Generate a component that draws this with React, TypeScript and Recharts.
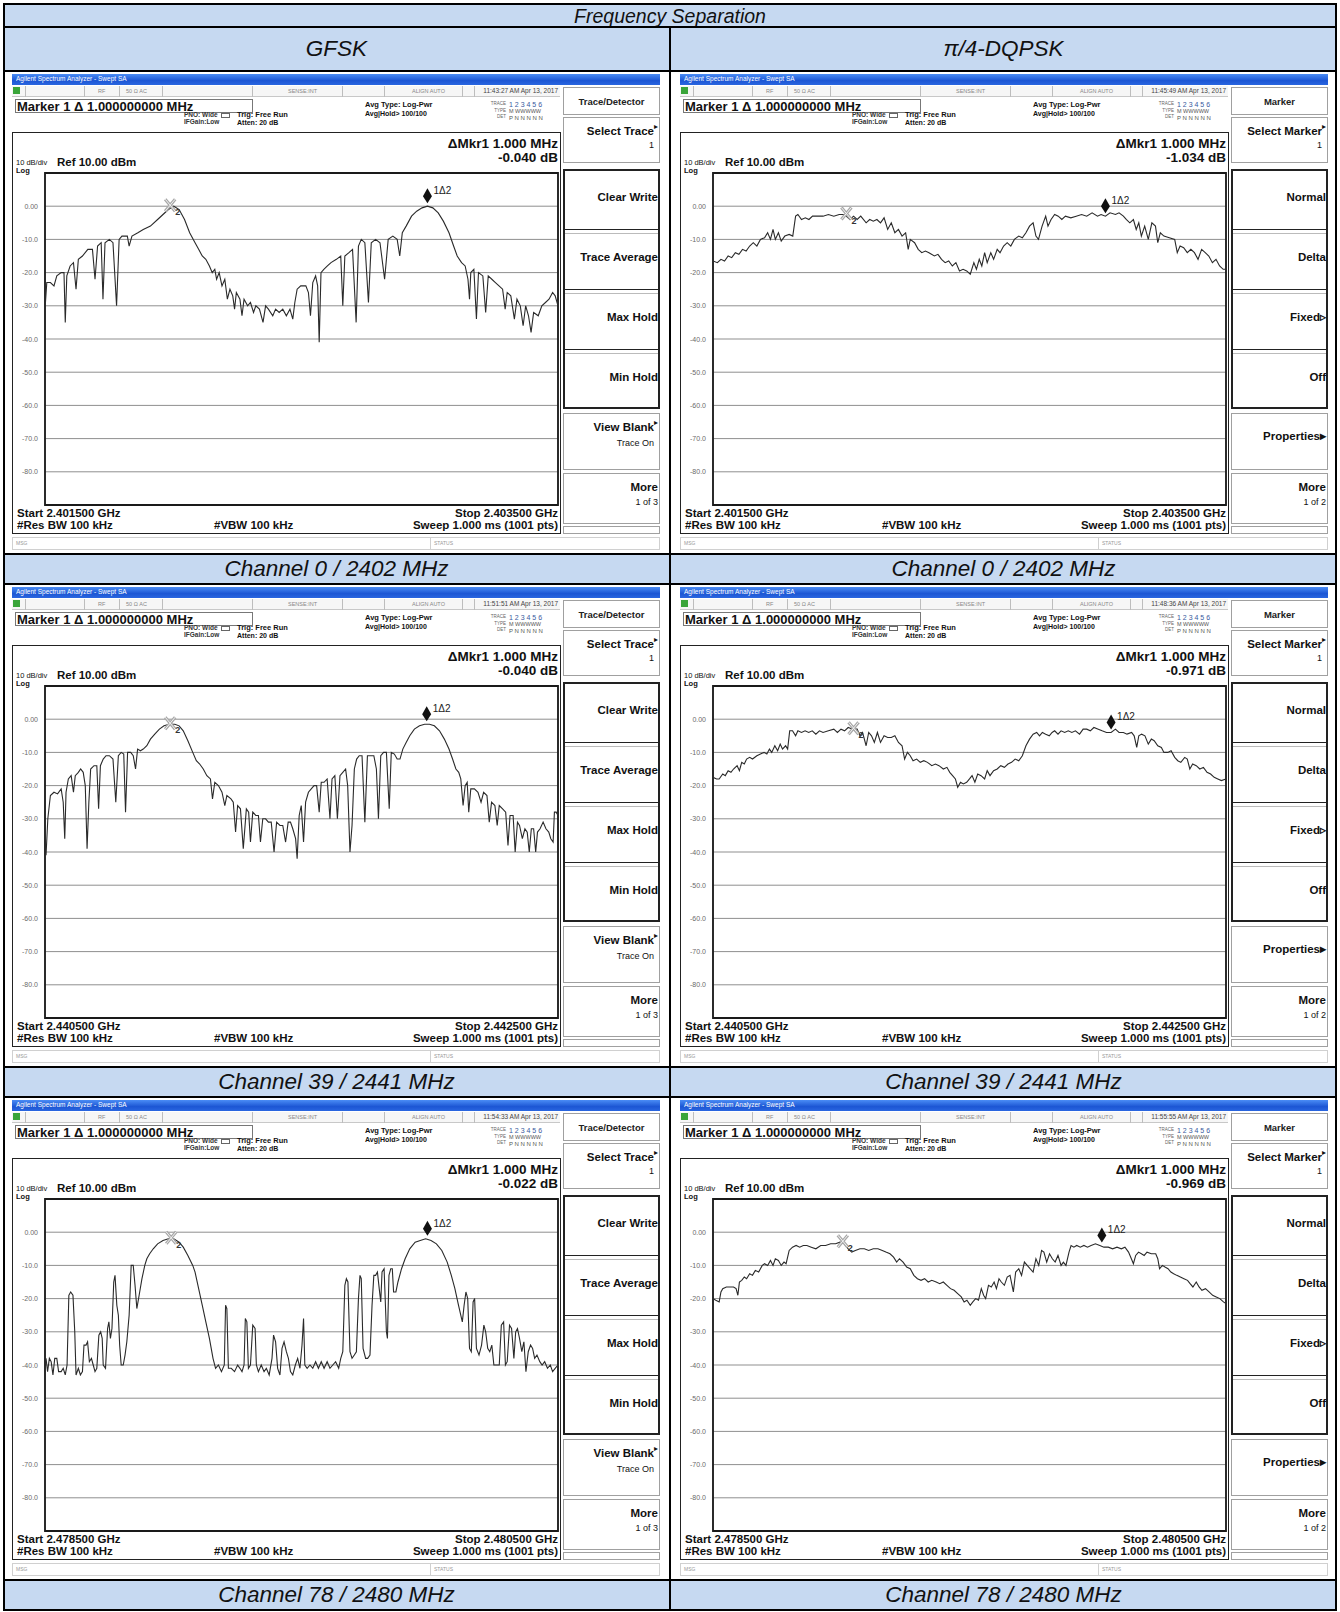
import React from 'react';
import { ComposedChart, Line, Scatter, XAxis, YAxis, CartesianGrid, ReferenceArea } from 'recharts';

const FONT = '"Liberation Sans", Arial, Helvetica, sans-serif';

// ---------- text / labels ----------
const TITLE = 'Frequency Separation';
const MODULATIONS = ['GFSK', 'π/4-DQPSK'];
const CHANNEL_CAPTIONS = ['Channel 0 / 2402 MHz', 'Channel 39 / 2441 MHz', 'Channel 78 / 2480 MHz'];
const START_FREQ = ['2.401500 GHz', '2.440500 GHz', '2.478500 GHz'];
const STOP_FREQ = ['2.403500 GHz', '2.442500 GHz', '2.480500 GHz'];
const TIMESTAMPS = [
  ['11:43:27 AM Apr 13, 2017', '11:45:49 AM Apr 13, 2017'],
  ['11:51:51 AM Apr 13, 2017', '11:48:36 AM Apr 13, 2017'],
  ['11:54:33 AM Apr 13, 2017', '11:55:55 AM Apr 13, 2017'],
];
const DELTA_DB = [
  ['-0.040 dB', '-1.034 dB'],
  ['-0.040 dB', '-0.971 dB'],
  ['-0.022 dB', '-0.969 dB'],
];
const LEVEL_TICKS = [10, 0, -10, -20, -30, -40, -50, -60, -70, -80, -90];
const FREQ_TICKS_KHZ = [0, 200, 400, 600, 800, 1000, 1200, 1400, 1600, 1800, 2000];
const SOFTKEYS_GFSK = {
  title: 'Trace/Detector',
  select: ['Select Trace', '1'],
  group: ['Clear Write', 'Trace Average', 'Max Hold', 'Min Hold'],
  fifth: ['View Blank', 'Trace On'],
  more: ['More', '1 of 3'],
};
const SOFTKEYS_DQPSK = {
  title: 'Marker',
  select: ['Select Marker', '1'],
  group: ['Normal', 'Delta', 'Fixed▹', 'Off'],
  fifth: ['Properties▸'],
  more: ['More', '1 of 2'],
};

// ---------- traces: [offset from start, kHz ; level, dBm] ----------
const TRACE_GFSK_CH0 = [[0,-31],[7,-23],[21,-23],[35,-24],[46,-21],[63,-20],[74,-20],[79,-35],[85,-21],[98,-18],[111,-17],[121,-25],[130,-16],[146,-15],[167,-13],[185,-13],[195,-22],[205,-12],[219,-11],[226,-28],[234,-11],[251,-10],[265,-11],[279,-30],[289,-10],[300,-9],[321,-9],[328,-12],[339,-9],[362,-8],[383,-7],[411,-6],[439,-4],[460,-2.5],[481,-1],[502,0],[523,-1],[544,-4],[564,-8],[585,-11],[599,-13],[613,-15],[627,-16],[641,-18],[652,-20],[662,-19],[669,-22],[679,-20],[690,-24],[701,-22],[711,-28],[721,-25],[732,-27],[739,-31],[746,-26],[760,-28],[768,-33],[776,-28],[790,-30],[801,-29],[813,-32],[822,-30],[836,-31],[850,-35],[860,-30],[871,-31],[888,-33],[899,-31],[913,-32],[927,-31],[941,-33],[955,-31],[966,-34],[974,-29],[983,-25],[997,-24],[1017,-24],[1027,-26],[1035,-33],[1044,-23],[1055,-21],[1063,-24],[1069,-41],[1076,-20],[1087,-19],[1101,-18],[1115,-17],[1136,-16],[1153,-15],[1161,-30],[1169,-15],[1185,-14],[1199,-13],[1213,-35],[1222,-12],[1233,-10],[1247,-11],[1261,-29],[1272,-11],[1289,-10],[1306,-11],[1324,-22],[1338,-10],[1356,-9],[1373,-10],[1383,-15],[1393,-8],[1408,-6],[1429,-3],[1449,-1.5],[1470,-0.5],[1491,0],[1512,-0.5],[1533,-2],[1553,-4.5],[1575,-8],[1593,-12],[1607,-15],[1624,-17],[1638,-18],[1649,-22],[1655,-28],[1660,-20],[1672,-19],[1682,-34],[1690,-20],[1707,-21],[1718,-32],[1728,-21],[1742,-22],[1756,-23],[1770,-24],[1784,-25],[1794,-31],[1802,-26],[1816,-27],[1830,-34],[1840,-28],[1853,-30],[1864,-36],[1874,-30],[1885,-33],[1895,-38],[1905,-32],[1923,-33],[1937,-30],[1951,-29],[1965,-28],[1979,-26],[1989,-27],[2000,-30]];

const TRACE_DQPSK_CH0 = [[0,-16.5],[17,-17],[31,-16],[45,-16.5],[59,-15],[73,-15.5],[87,-14],[101,-14.5],[115,-13],[129,-13.5],[143,-12],[157,-11],[171,-12],[185,-10],[201,-9.5],[213,-8],[224,-10],[234,-7],[243,-10],[255,-8],[266,-10.5],[280,-9],[297,-8.5],[311,-9],[322,-3],[331,-2.5],[345,-4],[360,-3.5],[374,-4],[388,-3],[408,-3],[429,-3],[450,-2.5],[471,-3],[492,-2.5],[513,-2.5],[534,-4],[548,-3],[562,-4],[576,-3],[597,-5],[611,-4],[625,-4.5],[639,-4],[653,-5],[667,-3.5],[681,-7],[695,-5],[709,-8],[723,-7],[737,-9],[751,-8],[761,-13],[769,-10],[786,-11],[800,-13],[814,-14],[828,-13.5],[842,-14],[863,-15],[877,-14.5],[891,-16],[905,-17],[919,-16.5],[933,-18],[947,-17],[961,-19.5],[975,-19],[989,-19.5],[1003,-20.5],[1017,-17],[1027,-19],[1038,-16],[1048,-18],[1059,-14],[1069,-17],[1083,-14],[1094,-16],[1108,-13],[1119,-14],[1133,-12],[1147,-11],[1161,-12],[1175,-10],[1192,-9],[1206,-9.5],[1220,-8],[1234,-6],[1248,-5],[1259,-9],[1269,-10],[1283,-6],[1297,-3],[1306,-6],[1318,-4],[1332,-2.5],[1346,-3],[1360,-4],[1374,-3],[1395,-3.5],[1416,-3],[1437,-2.5],[1457,-3],[1478,-2],[1499,-3],[1513,-2.5],[1530,-3],[1548,-2],[1569,-2.5],[1583,-2],[1600,-3],[1611,-4],[1625,-5],[1639,-4],[1650,-7],[1660,-5],[1670,-9],[1683,-6],[1697,-10],[1711,-5],[1725,-6],[1734,-11],[1744,-8],[1758,-9],[1779,-9.5],[1800,-10],[1810,-14],[1821,-12],[1835,-12.5],[1849,-14],[1863,-13],[1877,-14],[1891,-16],[1905,-13],[1919,-14],[1933,-15],[1947,-17],[1961,-16],[1975,-18],[1989,-19],[2000,-19]];

const TRACE_GFSK_CH39 = [[4,-41],[11,-30],[21,-23],[35,-22],[49,-22.5],[63,-21],[71,-25],[77,-36],[82,-22],[91,-18],[102,-17],[111,-22],[118,-17],[130,-16],[139,-15],[149,-16],[157,-20],[164,-39],[171,-25],[178,-15],[191,-14],[202,-14],[209,-27],[216,-14],[227,-12],[238,-11],[251,-11],[265,-12],[276,-25],[286,-11],[297,-10],[307,-10.5],[314,-28],[322,-10],[334,-10],[344,-11],[353,-15],[361,-9],[372,-9.5],[383,-9],[397,-8],[411,-6],[428,-4.5],[446,-3],[464,-2],[484,-1.5],[506,-1.5],[523,-2],[539,-3.5],[557,-6.5],[576,-10],[590,-12.5],[603,-13.5],[617,-15],[631,-17],[645,-18],[653,-24],[662,-19],[676,-20],[690,-22],[701,-26],[709,-23],[725,-24],[734,-25],[743,-34],[751,-26],[762,-27],[773,-39],[785,-27],[794,-28],[801,-37],[810,-28],[822,-29],[832,-29],[840,-37],[849,-30],[860,-30],[871,-31],[882,-31],[893,-40],[903,-31],[916,-32],[927,-32],[938,-37],[948,-31],[957,-31],[966,-33],[977,-36],[983,-42],[991,-29],[999,-26],[1008,-37],[1016,-25],[1027,-22],[1038,-21],[1049,-20],[1059,-20],[1069,-28],[1077,-19],[1088,-19],[1100,-18],[1111,-30],[1119,-18],[1130,-17],[1140,-30],[1150,-17],[1161,-16],[1172,-15],[1180,-20],[1189,-40],[1197,-32],[1206,-15],[1215,-12],[1225,-11],[1236,-11],[1247,-31],[1257,-11],[1270,-11],[1282,-11],[1292,-15],[1300,-30],[1309,-11],[1320,-10],[1331,-10],[1342,-27],[1350,-10],[1362,-10.5],[1373,-12],[1384,-12],[1395,-9],[1408,-7],[1422,-5],[1440,-3],[1460,-2],[1480,-1.5],[1499,-1.5],[1518,-2],[1538,-3.5],[1557,-6],[1575,-9],[1589,-12],[1602,-15],[1613,-16],[1621,-18],[1630,-26],[1638,-20],[1646,-19],[1652,-28],[1660,-21],[1674,-21],[1688,-22],[1700,-25],[1710,-22],[1723,-23],[1732,-31],[1741,-25],[1754,-26],[1763,-32],[1771,-26],[1784,-27],[1796,-28],[1805,-38],[1813,-29],[1825,-29],[1833,-40],[1842,-31],[1850,-32],[1861,-36],[1871,-33],[1880,-34],[1888,-40],[1896,-33],[1905,-33],[1913,-40],[1920,-34],[1930,-33],[1942,-31],[1953,-33],[1964,-34],[1972,-36],[1981,-37],[1986,-28],[1993,-28],[2000,-29]];

const TRACE_DQPSK_CH39 = [[0,-17.5],[14,-18],[24,-18],[38,-16.5],[48,-17],[59,-15.5],[70,-16],[80,-15],[94,-14],[103,-15.5],[112,-13],[122,-13.5],[131,-12],[143,-11.5],[154,-12],[171,-11],[185,-10.5],[199,-10],[210,-10.5],[220,-9],[229,-10],[241,-8],[252,-9.5],[262,-7.5],[271,-9],[283,-8],[291,-9],[299,-3.5],[310,-3.5],[322,-5],[331,-3.5],[345,-4],[359,-3.5],[373,-4],[387,-3.5],[401,-4.5],[415,-3.5],[429,-4],[450,-3.5],[471,-3],[485,-4],[499,-3],[513,-3.5],[527,-2.5],[545,-3],[562,-3],[573,-5],[583,-4],[597,-8],[607,-4],[618,-5],[629,-7],[641,-4],[653,-7],[667,-5],[681,-5.5],[695,-5.5],[709,-5],[723,-7],[737,-8],[747,-12],[758,-10],[769,-11],[780,-12.5],[794,-12],[808,-13],[822,-12.5],[836,-13],[853,-14],[867,-13.5],[881,-14],[898,-15],[912,-14.5],[923,-16],[934,-17],[945,-18],[954,-20.5],[965,-19],[976,-19.5],[989,-19],[1000,-18],[1010,-17],[1021,-19],[1032,-16.5],[1045,-17],[1059,-18],[1069,-15.5],[1080,-17],[1094,-15.5],[1108,-15],[1122,-14],[1136,-14.5],[1150,-13.5],[1164,-13],[1178,-12],[1192,-12.5],[1206,-11],[1220,-8],[1234,-6],[1248,-4.5],[1262,-4],[1273,-5],[1284,-4],[1297,-4.5],[1311,-5],[1322,-4],[1332,-3.5],[1345,-4.5],[1357,-3.5],[1371,-4],[1385,-3.5],[1399,-4],[1413,-3.5],[1429,-4.5],[1443,-3],[1457,-3],[1471,-3.5],[1485,-2.5],[1502,-3],[1517,-3.5],[1534,-4],[1552,-4],[1569,-3],[1583,-4],[1600,-4],[1614,-4.5],[1632,-4],[1642,-5],[1652,-8.5],[1660,-5],[1671,-4.5],[1684,-5],[1697,-7.5],[1709,-6],[1720,-6.5],[1734,-8],[1748,-8.5],[1758,-10],[1773,-10],[1786,-9.5],[1800,-11.5],[1812,-12.5],[1824,-13],[1839,-11.5],[1849,-12],[1859,-15],[1870,-13.5],[1884,-14],[1898,-15],[1912,-14.5],[1926,-16],[1940,-16.5],[1954,-17.5],[1968,-18],[1982,-18.5],[2000,-18]];

const TRACE_GFSK_CH78 = [[4,-38],[10,-42],[17,-38],[24,-39],[31,-43],[38,-38],[46,-38],[53,-42],[63,-42],[71,-41],[79,-43],[86,-40],[93,-19],[100,-18],[109,-19],[116,-30],[121,-43],[130,-41],[138,-43],[146,-42],[152,-34],[160,-34],[166,-33],[173,-39],[181,-38],[188,-40],[195,-42],[202,-41],[210,-31],[217,-30],[223,-32],[227,-40],[236,-41],[244,-29],[249,-27],[255,-32],[261,-29],[268,-15],[273,-13],[280,-22],[286,-25],[291,-34],[297,-40],[305,-40],[312,-37],[319,-33],[328,-25],[336,-10],[344,-10],[351,-16],[358,-23],[367,-19],[378,-14],[389,-10],[397,-8],[408,-6.5],[422,-5],[439,-3.5],[460,-2.5],[481,-2],[502,-2],[523,-3],[539,-4.5],[557,-7],[576,-10],[585,-12],[599,-17],[613,-22],[627,-27],[641,-32],[655,-38],[665,-41],[676,-40],[688,-42],[699,-40],[704,-22],[709,-23],[715,-41],[726,-41],[739,-42],[751,-40],[760,-41],[768,-42],[776,-40],[781,-26],[787,-27],[793,-41],[801,-40],[810,-28],[819,-29],[824,-40],[832,-42],[843,-40],[854,-42],[863,-41],[874,-43],[885,-38],[891,-31],[899,-33],[907,-41],[916,-43],[924,-35],[932,-33],[941,-36],[949,-38],[957,-42],[966,-43],[976,-40],[985,-38],[994,-41],[1002,-34],[1008,-26],[1013,-40],[1022,-41],[1033,-40],[1044,-41],[1055,-39],[1066,-41],[1077,-39],[1088,-41],[1100,-39],[1111,-41],[1122,-40],[1133,-39],[1145,-41],[1153,-38],[1161,-36],[1169,-16],[1175,-14],[1181,-15],[1189,-36],[1197,-38],[1206,-37],[1214,-36],[1222,-20],[1228,-13],[1233,-14],[1240,-35],[1250,-38],[1258,-38],[1267,-37],[1275,-22],[1282,-13],[1289,-13],[1296,-12],[1303,-17],[1309,-21],[1314,-12],[1322,-11],[1331,-30],[1335,-32],[1341,-13],[1348,-11],[1354,-11],[1359,-18],[1368,-18],[1376,-15],[1390,-11],[1404,-8],[1422,-5],[1443,-3],[1463,-2.5],[1484,-2],[1505,-2.5],[1526,-3.5],[1547,-5.5],[1568,-9],[1584,-13],[1598,-17],[1612,-22],[1627,-27],[1634,-22],[1641,-18],[1648,-20],[1655,-35],[1662,-36],[1669,-21],[1675,-20],[1682,-35],[1692,-37],[1702,-34],[1711,-28],[1718,-30],[1726,-35],[1734,-36],[1742,-34],[1750,-40],[1763,-40],[1771,-40],[1779,-28],[1788,-27],[1795,-40],[1802,-39],[1811,-28],[1819,-29],[1828,-38],[1835,-30],[1842,-29],[1850,-32],[1859,-36],[1867,-33],[1875,-42],[1884,-36],[1893,-34],[1901,-35],[1909,-38],[1918,-37],[1929,-39],[1938,-40],[1948,-39],[1959,-41],[1970,-40],[1979,-42],[1989,-41],[2000,-40]];

const TRACE_DQPSK_CH78 = [[0,-20],[11,-20.5],[24,-21],[31,-18],[38,-17],[52,-16.5],[66,-16.5],[80,-16.5],[90,-17],[97,-19],[103,-15],[112,-14.5],[122,-13.5],[131,-14],[143,-12.5],[154,-13],[165,-11.5],[178,-12],[192,-10],[201,-9.5],[213,-10],[224,-8.5],[234,-10],[243,-8],[255,-8.5],[266,-10],[277,-9],[285,-9.5],[297,-5.5],[310,-4.5],[324,-4],[338,-4.5],[352,-4],[366,-4],[383,-4.5],[401,-5],[420,-4],[439,-4],[459,-3.5],[478,-3.5],[495,-3],[513,-3.5],[527,-5],[541,-6],[555,-5.5],[573,-5],[590,-5],[607,-5.5],[625,-5],[643,-5],[660,-5.5],[674,-6],[690,-6.5],[704,-7.5],[716,-9],[727,-8],[741,-9],[755,-10.5],[769,-11],[783,-13],[797,-14],[811,-14.5],[825,-14],[839,-15],[853,-14.5],[870,-15],[884,-15.5],[898,-15],[912,-16],[926,-17],[940,-17.5],[954,-18.5],[968,-19.5],[979,-21],[990,-20.5],[1003,-22],[1013,-21],[1024,-20],[1035,-20.5],[1046,-17],[1055,-19],[1063,-20],[1074,-16],[1085,-16.5],[1096,-15],[1105,-17],[1115,-14],[1124,-15],[1136,-16],[1147,-13.5],[1158,-13],[1171,-18],[1180,-12],[1192,-11],[1203,-13],[1214,-9],[1225,-10],[1236,-11],[1248,-12],[1259,-8],[1270,-10],[1281,-5.5],[1290,-6],[1301,-9],[1312,-6.5],[1323,-8],[1334,-9],[1345,-7],[1357,-10],[1366,-9],[1376,-10],[1388,-6],[1396,-4],[1407,-4.5],[1418,-4],[1432,-4.5],[1446,-4],[1460,-4.5],[1474,-4],[1491,-3.5],[1508,-4],[1524,-4.5],[1541,-4.5],[1558,-5],[1575,-4.5],[1592,-5],[1606,-4.5],[1620,-6],[1631,-8],[1639,-9.5],[1648,-7],[1659,-6],[1670,-6.5],[1681,-7],[1692,-6],[1709,-6.5],[1726,-6.5],[1734,-8],[1741,-11],[1752,-10],[1762,-10.5],[1774,-11],[1785,-12],[1796,-12.5],[1808,-13],[1822,-13.5],[1836,-14],[1850,-14.5],[1860,-15.5],[1871,-16.5],[1884,-15],[1895,-16.5],[1906,-17.5],[1920,-17],[1934,-18],[1948,-19],[1962,-19.5],[1976,-20],[1990,-21],[2000,-21.5]];

// marker positions [kHz offset, dBm] per row: [GFSK, DQPSK]
const MARKER2 = [[[488, 0], [520, -2.5]], [[488, -1.5], [548, -3]], [[492, -2], [506, -3]]];
const MARKER1 = [[[1491, 0], [1530, -3]], [[1488, -1.5], [1552, -4]], [[1491, -2], [1516, -4]]];
const TRACES = [[TRACE_GFSK_CH0, TRACE_DQPSK_CH0], [TRACE_GFSK_CH39, TRACE_DQPSK_CH39], [TRACE_GFSK_CH78, TRACE_DQPSK_CH78]];

// ---------- layout ----------
const PW = 648;
const GRID_L = 33, GRID_T = 102, GW = 513, GH = 332, AXW = 30, PAD = 3;
const PANEL_X = [12, 680];
const ROW0_T = 3, ROW1_T = 27, ROW1_B = 71;
const PANEL_H = 483, CAP_H = 30;
const BLOCK = PANEL_H + CAP_H;
const ROW_BG = '#c6d9f1';

function levelTick(props) {
  const { x, y, payload } = props;
  const v = payload.value;
  if (v === 10 || v === -90) return <g />;
  const label = v === 0 ? '0.00' : v.toFixed(1);
  return (
    <text x={x + 1} y={y} dy={2.5} textAnchor="end" fontSize={7} fill="#6a6a6a" fontFamily={FONT}>{label}</text>
  );
}

function mkr2Shape(props) {
  const { cx, cy } = props;
  const d = `M${cx - 5},${cy - 7} L${cx + 5},${cy + 5} M${cx + 5},${cy - 7} L${cx - 5},${cy + 5}`;
  return (
    <g>
      <path d={d} stroke="#a8a8a8" strokeWidth={3.2} fill="none" />
      <path d={d} stroke="#f2f2f2" strokeWidth={1} fill="none" />
      <text x={cx + 5} y={cy + 9} fontSize={9} fontWeight="bold" fill="#333" fontFamily={FONT}>2</text>
    </g>
  );
}

function mkr1Shape(props) {
  const { cx, cy } = props;
  return (
    <g>
      <path d={`M${cx},${cy - 18} L${cx + 4.5},${cy - 10} L${cx},${cy - 3} L${cx - 4.5},${cy - 10} Z`} fill="#111" />
      <text x={cx + 6} y={cy - 12} fontSize={10} fill="#222" fontFamily={FONT}>1Δ2</text>
    </g>
  );
}

function SpectrumChart({ trace, m1, m2 }) {
  const data = trace.map(([f, v]) => ({ f, v }));
  return (
    <ComposedChart width={AXW + GW + PAD} height={GH + 2 * PAD} margin={{ top: PAD, right: PAD, bottom: PAD, left: 0 }}>
      <CartesianGrid stroke="#8f8f8f" strokeWidth={1} />
      <XAxis type="number" dataKey="f" domain={[0, 2000]} ticks={FREQ_TICKS_KHZ} height={0} tick={false} axisLine={false} tickLine={false} allowDataOverflow />
      <YAxis type="number" dataKey="v" domain={[-90, 10]} ticks={LEVEL_TICKS} interval={0} width={AXW} axisLine={false} tickLine={false} tick={levelTick} allowDataOverflow />
      <ReferenceArea x1={0} x2={2000} y1={-90} y2={10} fill="none" fillOpacity={0} stroke="#1a1a1a" strokeWidth={1.8} ifOverflow="visible" />
      <Line data={data} dataKey="v" type="linear" dot={false} stroke="#2a2a2a" strokeWidth={1.1} isAnimationActive={false} />
      <Scatter data={[{ f: m2[0], v: m2[1] }]} dataKey="v" shape={mkr2Shape} isAnimationActive={false} />
      <Scatter data={[{ f: m1[0], v: m1[1] }]} dataKey="v" shape={mkr1Shape} isAnimationActive={false} />
    </ComposedChart>
  );
}

function L(left, cy, text, size, extra = {}) {
  return (
    <div style={{ position: 'absolute', left, top: cy - size / 2, fontSize: size, lineHeight: `${size}px`, height: size, whiteSpace: 'nowrap', ...extra }}>{text}</div>
  );
}
function R(rightX, cy, text, size, extra = {}) {
  return (
    <div style={{ position: 'absolute', right: PW - rightX, top: cy - size / 2, fontSize: size, lineHeight: `${size}px`, height: size, whiteSpace: 'nowrap', textAlign: 'right', ...extra }}>{text}</div>
  );
}

function Softkeys({ keys }) {
  const KX = 551, KW = 97;
  const box = (top, h, extra = {}) => ({ position: 'absolute', left: KX, top, width: KW, height: h, boxSizing: 'border-box', border: '1px solid #a0a0a0', background: '#fff', ...extra });
  const gTop = 98, keyH = 60;
  const KF = 11.5;
  return (
    <>
      <div style={box(16, 28)} />
      {L(KX, 31, keys.title, 9.5, { width: KW, textAlign: 'center', fontWeight: 'bold', color: '#222' })}
      <div style={box(46, 46)} />
      {R(KX + KW - 6, 61, keys.select[0], KF, { fontWeight: 'bold' })}
      {L(KX + KW - 6, 56, '▸', 8)}
      {R(KX + KW - 6, 74, keys.select[1], 9)}
      <div style={box(gTop, 4 * keyH, { border: '2px solid #222' })} />
      {keys.group.map((k, i) => (
        <React.Fragment key={k}>
          {i > 0 && <div style={{ position: 'absolute', left: KX + 2, top: gTop + i * keyH, width: KW - 4, height: 3, borderTop: '1px solid #222', borderBottom: '1px solid #bbb' }} />}
          {R(KX + KW - 2, gTop + i * keyH + 29, k, KF, { fontWeight: 'bold' })}
        </React.Fragment>
      ))}
      <div style={box(342, 57)} />
      {keys.fifth.length > 1 ? (
        <>
          {R(KX + KW - 6, 357, keys.fifth[0], KF, { fontWeight: 'bold' })}
          {L(KX + KW - 6, 352, '▸', 8)}
          {R(KX + KW - 6, 372, keys.fifth[1], 9)}
        </>
      ) : (
        R(KX + KW - 2, 366, keys.fifth[0], KF, { fontWeight: 'bold' })
      )}
      <div style={box(402, 51)} />
      {R(KX + KW - 2, 417, keys.more[0], KF, { fontWeight: 'bold' })}
      {R(KX + KW - 2, 431, keys.more[1], 9)}
      <div style={box(455, 8)} />
    </>
  );
}

function Panel({ x0, y0, row, col }) {
  const keys = col === 0 ? SOFTKEYS_GFSK : SOFTKEYS_DQPSK;
  const sep = (x) => <div key={x} style={{ position: 'absolute', left: x, top: 15, width: 1, height: 11, background: '#bdbdbd' }} />;
  return (
    <div style={{ position: 'absolute', left: x0, top: y0, width: PW, height: PANEL_H, fontFamily: FONT, color: '#111' }}>
      {/* title bar */}
      <div style={{ position: 'absolute', left: 0, top: 3, width: PW, height: 11, background: 'linear-gradient(#4a8cf5, #1c56d4 60%, #2a66e0)' }} />
      {L(4, 8.5, 'Agilent Spectrum Analyzer - Swept SA', 6.5, { color: '#fff' })}
      {/* status row */}
      <div style={{ position: 'absolute', left: 0, top: 15, width: 548, height: 11, background: '#f6f6f6', borderBottom: '1px solid #c8c8c8', boxSizing: 'border-box' }} />
      <div style={{ position: 'absolute', left: 1, top: 16, width: 7, height: 7, background: '#3aa53a' }} />
      {[13, 72, 107, 150, 240, 330, 372, 450, 462].map(sep)}
      {L(86, 20.5, 'RF', 5.5, { color: '#888' })}
      {L(114, 20.5, '50 Ω   AC', 5.5, { color: '#888' })}
      {L(276, 20.5, 'SENSE:INT', 5.5, { color: '#888' })}
      {L(400, 20.5, 'ALIGN AUTO', 5.5, { color: '#888' })}
      {R(546, 20.5, TIMESTAMPS[row][col], 6.5, { color: '#444' })}
      {/* marker line */}
      <div style={{ position: 'absolute', left: 3, top: 28, width: 238, height: 14, border: '1px solid #777', boxSizing: 'border-box' }} />
      {L(5, 35, 'Marker 1 Δ 1.000000000 MHz', 13, { fontWeight: 'bold' })}
      {L(172, 44.5, 'PNO: Wide', 6.5, { fontWeight: 'bold', color: '#333' })}
      <div style={{ position: 'absolute', left: 209, top: 42, width: 9, height: 5, border: '1px solid #666', boxSizing: 'border-box' }} />
      {L(172, 51.5, 'IFGain:Low', 6.5, { fontWeight: 'bold', color: '#333' })}
      {L(225, 43.5, 'Trig: Free Run', 7.5, { fontWeight: 'bold' })}
      {L(225, 51.5, 'Atten: 20 dB', 7, { fontWeight: 'bold' })}
      {L(353, 34, 'Avg Type: Log-Pwr', 7.5, { fontWeight: 'bold' })}
      {L(353, 42, 'Avg|Hold> 100/100', 7, { fontWeight: 'bold' })}
      {R(494, 33, 'TRACE', 4.5, { color: '#666' })}
      {L(497, 33.5, '1 2 3 4 5 6', 7, { color: '#3a5aa0' })}
      {R(494, 40, 'TYPE', 4.5, { color: '#666' })}
      {L(497, 40.5, 'M WWWWW', 5.5, { color: '#555' })}
      {R(494, 46.5, 'DET', 4.5, { color: '#666' })}
      {L(497, 47, 'P N N N N N', 6, { color: '#555' })}
      {/* display frame */}
      <div style={{ position: 'absolute', left: 0, top: 61, width: 549, height: 402, border: '1.5px solid #222', boxSizing: 'border-box' }} />
      {R(546, 73, 'ΔMkr1 1.000 MHz', 13.5, { fontWeight: 'bold' })}
      {R(546, 86.5, DELTA_DB[row][col], 13.5, { fontWeight: 'bold' })}
      {L(4, 92, '10 dB/div', 7.5)}
      {L(45, 91.5, 'Ref 10.00 dBm', 11.5, { fontWeight: 'bold' })}
      {L(4, 99.5, 'Log', 7.5, { fontWeight: 'bold' })}
      <div style={{ position: 'absolute', left: GRID_L - AXW, top: GRID_T - PAD }}>
        <SpectrumChart trace={TRACES[row][col]} m1={MARKER1[row][col]} m2={MARKER2[row][col]} />
      </div>
      {L(5, 443, `Start ${START_FREQ[row]}`, 11.5, { fontWeight: 'bold' })}
      {R(546, 443, `Stop ${STOP_FREQ[row]}`, 11.5, { fontWeight: 'bold' })}
      {L(5, 455, '#Res BW 100 kHz', 11.5, { fontWeight: 'bold' })}
      {L(202, 455, '#VBW 100 kHz', 11.5, { fontWeight: 'bold' })}
      {R(546, 455, 'Sweep  1.000 ms (1001 pts)', 11.5, { fontWeight: 'bold' })}
      {/* message row */}
      <div style={{ position: 'absolute', left: 0, top: 466, width: PW, height: 13, border: '1px solid #d0d0d0', boxSizing: 'border-box' }} />
      <div style={{ position: 'absolute', left: 418, top: 466, width: 1, height: 13, background: '#d0d0d0' }} />
      {L(4, 472.5, 'MSG', 5, { color: '#999' })}
      {L(422, 472.5, 'STATUS', 5, { color: '#999' })}
      <Softkeys keys={keys} />
    </div>
  );
}

export default function App() {
  const LW = 2;
  const hLine = (y, x1 = 3, x2 = 1337) => <div key={`h${y}`} style={{ position: 'absolute', left: x1, top: y - 1, width: x2 - x1, height: LW, background: '#000' }} />;
  const vLine = (x, y1, y2) => <div key={`v${x}`} style={{ position: 'absolute', left: x - 1, top: y1, width: LW, height: y2 - y1, background: '#000' }} />;
  const cellText = (cx, cy, text, w, size = 22.5) => (
    <div style={{ position: 'absolute', left: cx - w / 2, width: w, top: cy - size / 2, height: size, lineHeight: `${size}px`, textAlign: 'center', fontFamily: FONT, fontStyle: 'italic', fontSize: size, color: '#111' }}>{text}</div>
  );
  const colCenters = [336.5, 1003.5];
  const bottom = 1610;
  return (
    <div style={{ position: 'absolute', left: 0, top: 0, width: 1340, height: 1612, background: '#fff', overflow: 'hidden' }}>
      {/* header backgrounds */}
      <div style={{ position: 'absolute', left: 3, top: ROW0_T, width: 1334, height: ROW1_B - ROW0_T, background: ROW_BG }} />
      {[0, 1, 2].map((r) => (
        <div key={`cap${r}`} style={{ position: 'absolute', left: 3, top: ROW1_B + r * BLOCK + PANEL_H, width: 1334, height: CAP_H, background: ROW_BG }} />
      ))}
      {cellText(670, (ROW0_T + ROW1_T) / 2 + 1.5, TITLE, 600, 19.5)}
      {MODULATIONS.map((m, c) => <React.Fragment key={m}>{cellText(colCenters[c], (ROW1_T + ROW1_B) / 2, m, 600)}</React.Fragment>)}
      {[0, 1, 2].map((r) => (
        <React.Fragment key={`ct${r}`}>
          {colCenters.map((cx) => (
            <React.Fragment key={cx}>{cellText(cx, ROW1_B + r * BLOCK + PANEL_H + CAP_H / 2, CHANNEL_CAPTIONS[r], 600)}</React.Fragment>
          ))}
        </React.Fragment>
      ))}
      {[0, 1, 2].map((r) => (
        <React.Fragment key={`p${r}`}>
          {[0, 1].map((c) => (
            <Panel key={c} x0={PANEL_X[c]} y0={ROW1_B + r * BLOCK} row={r} col={c} />
          ))}
        </React.Fragment>
      ))}
      {/* table lines */}
      {hLine(ROW0_T + 1)}
      {hLine(ROW1_T)}
      {hLine(ROW1_B)}
      {[0, 1, 2].map((r) => (
        <React.Fragment key={`hl${r}`}>
          {hLine(ROW1_B + r * BLOCK + PANEL_H)}
          {r < 2 && hLine(ROW1_B + r * BLOCK + PANEL_H + CAP_H)}
        </React.Fragment>
      ))}
      {vLine(4, ROW0_T, bottom + 1)}
      {vLine(1336, ROW0_T, bottom + 1)}
      {vLine(670, ROW1_T, bottom)}
      {hLine(bottom)}
    </div>
  );
}
